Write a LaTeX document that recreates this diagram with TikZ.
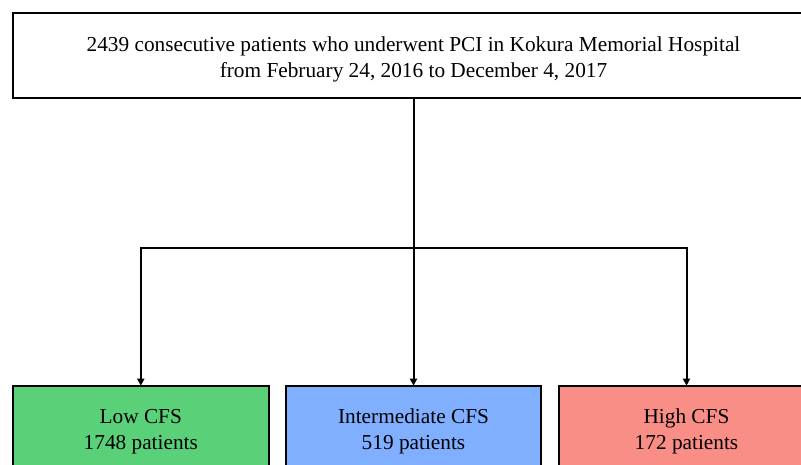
\documentclass[tikz,border=0pt]{standalone}
\usepackage{fontspec}
\setmainfont{Liberation Serif}
\usepackage{tikz}
\usetikzlibrary{arrows.meta, positioning}

\definecolor{lowgreen}{RGB}{90,208,120}
\definecolor{midblue}{RGB}{128,175,255}
\definecolor{highred}{RGB}{248,142,134}

\begin{document}
\begin{tikzpicture}[x=1pt, y=-1pt,
        box/.style={draw, line width=2pt, inner sep=0pt, outer sep=0pt, minimum height=85pt, align=center, text height=47.4pt, text depth=5pt, font=\fontsize{21.3}{25.6}\selectfont},
        link/.style={line width=2pt},
        arr/.style={line width=2pt, -{Triangle[length=7pt,width=7pt]}}]
        \useasboundingbox (0,0) rectangle (801,465);

        \node[box, minimum width=801pt] (top) at (413.5,56) {2439 consecutive patients who underwent PCI in Kokura Memorial Hospital\\from February 24, 2016 to December 4, 2017};

        \node[box, fill=lowgreen, minimum width=256pt] (low) at (140.8,428.2) {Low CFS\\1748 patients};
        \node[box, fill=midblue, minimum width=255pt] (mid) at (413.5,428.2) {Intermediate CFS\\519 patients};
        \node[box, fill=highred, minimum width=255pt] (high) at (686.5,428.2) {High CFS\\172 patients};

        \coordinate (split) at (top.south |- 0,248);

        \draw[link] (top.south)--(split);
        \draw[arr] (split)-|(low.north);
        \draw[arr] (split)--(mid.north);
        \draw[arr] (split)-|(high.north);
    \end{tikzpicture}
\end{document}
